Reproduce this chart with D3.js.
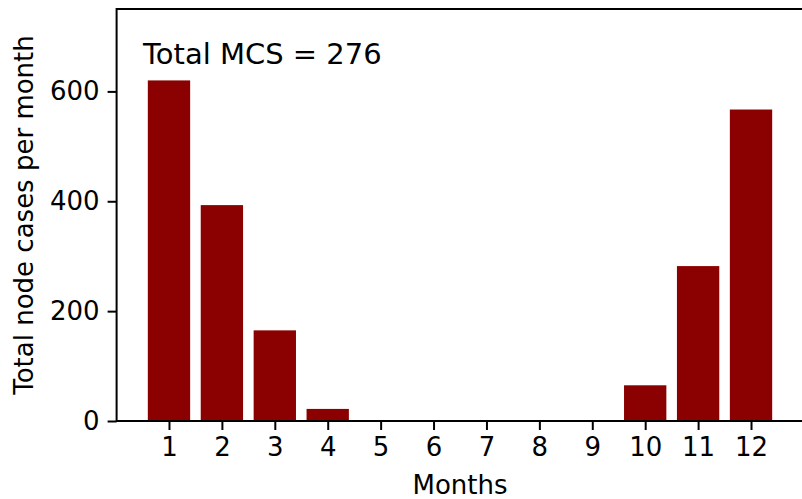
<!DOCTYPE html>
<html><head><meta charset="utf-8">
<script src="https://cdn.jsdelivr.net/npm/d3@7"></script>
<style>body{margin:0;background:#fff}svg{display:block;font-family:"DejaVu Sans",sans-serif}</style>
</head><body><svg id="c" width="802" height="499"></svg>
<script>
const months = [1,2,3,4,5,6,7,8,9,10,11,12];
const cases = [620,393,165,22,0,0,0,0,0,65,282,567];
const yTicks = [0,200,400,600];
const annotation = "Total MCS = 276";
const xLabel = "Months";
const yLabel = "Total node cases per month";

const svg = d3.select("#c");
const L = 116.6, R = 803.4, T = 9, B = 421;
const x = d3.scaleLinear().domain([0.01,12.99]).range([L,R]);
const y = d3.scaleLinear().domain([0,750]).range([B,T]);
const bw = x(1.8)-x(1);

svg.append("g").selectAll("rect").data(months).join("rect")
  .attr("x", (d)=>x(d)-bw/2).attr("width", bw)
  .attr("y", (d,i)=>y(cases[i])).attr("height", (d,i)=>B-y(cases[i]))
  .attr("fill","#8b0000");

const fs = 26;
const xa = svg.append("g").attr("transform",`translate(0,${B})`)
  .call(d3.axisBottom(x).tickValues(months).tickFormat(d3.format("d")).tickSize(9).tickPadding(8));
const ya = svg.append("g").attr("transform",`translate(${L},0)`)
  .call(d3.axisLeft(y).tickValues(yTicks).tickSize(9).tickPadding(8));
[xa,ya].forEach(a=>{
  a.selectAll("text").attr("font-size",fs).attr("font-family","DejaVu Sans").attr("fill","#000");
  a.selectAll("line").attr("stroke","#000").attr("stroke-width",2);
  a.select(".domain").remove();
});
// spines
svg.append("rect").attr("x",L).attr("y",T).attr("width",R-L).attr("height",B-T)
  .attr("fill","none").attr("stroke","#000").attr("stroke-width",2);

svg.append("text").attr("x",143).attr("y",64).attr("font-size",29).text(annotation);
svg.append("text").attr("x",(L+R)/2).attr("y",494).attr("text-anchor","middle").attr("font-size",fs).text(xLabel);
svg.append("text").attr("transform",`translate(33,${(T+B)/2}) rotate(-90)`).attr("text-anchor","middle").attr("font-size",fs).text(yLabel);
</script></body></html>
